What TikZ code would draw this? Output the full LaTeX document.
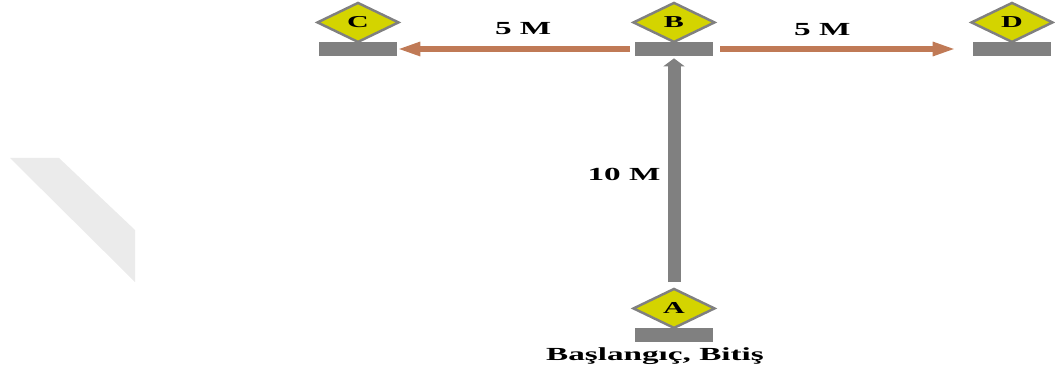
\documentclass[tikz,border=0pt]{standalone}
\usepackage{fontspec}
\setmainfont{Liberation Serif}
\usetikzlibrary{positioning,shapes.geometric,arrows.meta}
\definecolor{stationyellow}{RGB}{212,212,0}
\definecolor{stationgray}{RGB}{128,128,128}
\definecolor{legbrown}{RGB}{192,122,86}
\newcommand{\widetext}[1]{\scalebox{1.8}[1]{#1}}
\tikzset{
	bar/.style={fill=stationgray, shape=rectangle, minimum width=1.56cm, minimum height=0.28cm, inner sep=0},
	station/.style={draw=stationgray, line width=1.4pt, fill=stationyellow, shape=diamond, aspect=2.4, minimum width=1.64cm, minimum height=0.8cm, inner sep=0, font=\bfseries\fontsize{9.5}{10}\selectfont},
	leg/.style={draw=legbrown, line width=0.11cm, -{Triangle[length=0.46cm, width=0.26cm]}},
	trunk/.style={draw=stationgray, line width=0.26cm, -{Triangle[length=0.16cm, width=0.42cm]}},
	lengthlabel/.style={font=\bfseries\fontsize{10.5}{12}\selectfont, inner sep=0}
}
\begin{document}
\begin{tikzpicture}[x=0.02cm, y=-0.02cm]
	\useasboundingbox (0,0) rectangle (1055,368);
	\fill[black!8] (10,158) -- (59,158) -- (135,230) -- (135,282) -- cycle;
	\foreach \name/\x/\y in {C/358/49,B/674/49,D/1012/49,A/674/335}
	{
		\node[bar] (bar\name) at (\x,\y) {};
		\node[station, above=-0.04cm of bar\name] (\name) {\widetext{\name}};
	}
	\node[lengthlabel, below=0.1cm of barA, xshift=-0.38cm] (start) {\widetext{Başlangıç, Bitiş}};
	\draw[leg, shorten <=0.1cm] (barB.west) -- (barC.east)
		node[lengthlabel, pos=0.47, yshift=0.4cm] (legC) {\widetext{5 M}};
	\draw[leg, shorten <=0.14cm, shorten >=0.34cm] (barB.east) -- (barD.west)
		node[lengthlabel, pos=0.42, yshift=0.38cm] (legD) {\widetext{5 M}};
	\draw[trunk, shorten <=0.1cm, shorten >=0.04cm] (A.north) -- (barB.south)
		node[lengthlabel, pos=0.49, xshift=-1cm] (legB) {\widetext{10 M}};
\end{tikzpicture}
\end{document}
